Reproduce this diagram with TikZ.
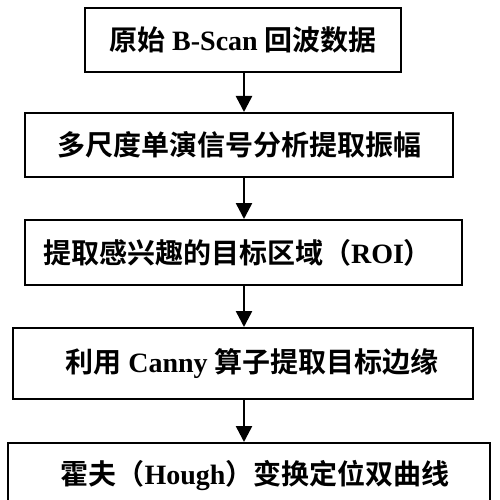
\documentclass[tikz,border=0pt]{standalone}
\usepackage{fontspec}
\setmainfont{Liberation Serif}
\newfontfamily\cjk{Noto Sans CJK SC}[BoldFont={Noto Sans CJK SC Bold}]
\usetikzlibrary{arrows.meta}
\newcommand\zh[1]{{\cjk\bfseries #1}}
\newcommand\en[1]{{\bfseries #1}}
\begin{document}
\begin{tikzpicture}[x=1pt,y=-1pt,
  stepbox/.style={draw=black,line width=2pt,fill=white,inner sep=0pt,
    font=\fontsize{28}{30}\selectfont,text=black},
  flow/.style={line width=2.5pt,-{Triangle[length=16pt,width=16pt]}}]
\clip (0,0) rectangle (500,500);
\fill[white] (0,0) rectangle (500,500);
\node[stepbox,minimum width=316pt,minimum height=64pt] (b1) at (243,40)
  {\zh{原始}\en{ B-Scan }\zh{回波数据}};
\node[stepbox,minimum width=428pt,minimum height=64pt] (b2) at (239,145)
  {\zh{多尺度单演信号分析提取振幅}};
\node[stepbox,minimum width=437pt,minimum height=65pt] (b3) at (243.5,252.5)
  {\zh{提取感兴趣的目标区域（}\en{ROI}\zh{）}\hspace*{12pt}};
\node[stepbox,minimum width=460pt,minimum height=71pt] (b4) at (243,363.5)
  {\hspace*{18pt}\zh{利用}\en{ Canny }\zh{算子提取目标边缘}};
\node[stepbox,minimum width=482pt,minimum height=64pt] (b5) at (249,475)
  {\hspace*{12pt}\zh{霍夫（}\en{Hough}\zh{）变换定位双曲线}};
\coordinate (ax) at (244,0);
\draw[flow] (b1.south -| ax) -- (b2.north -| ax);
\draw[flow] (b2.south -| ax) -- (b3.north -| ax);
\draw[flow] (b3.south -| ax) -- (b4.north -| ax);
\draw[flow] (b4.south -| ax) -- (b5.north -| ax);
\end{tikzpicture}
\end{document}
